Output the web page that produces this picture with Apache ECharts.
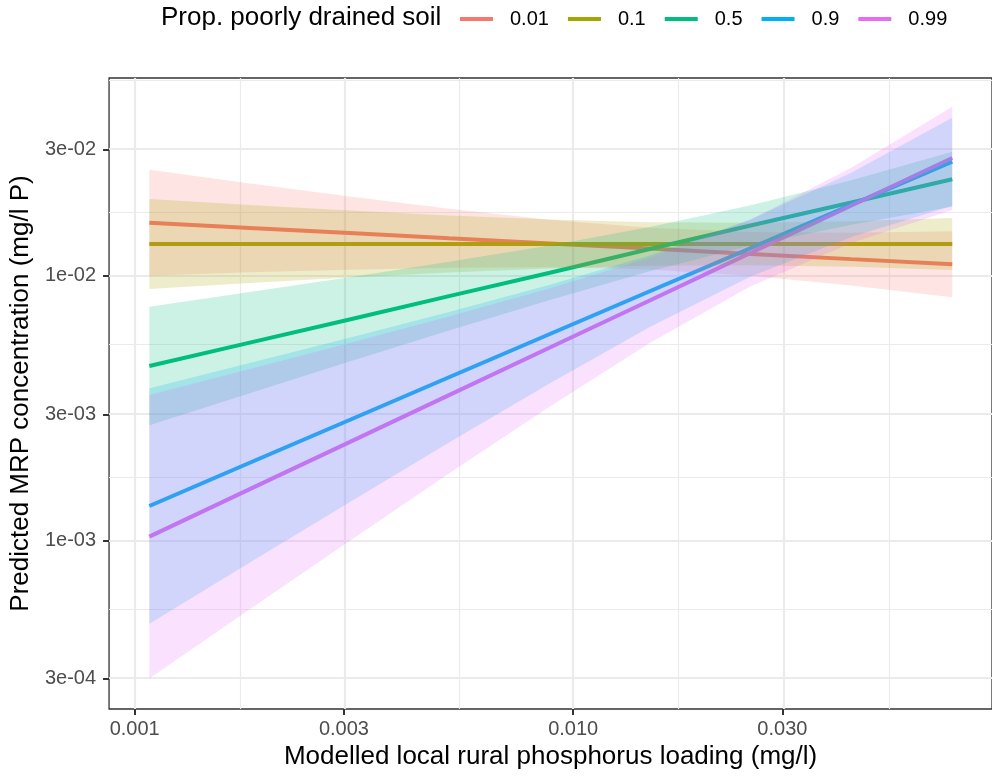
<!DOCTYPE html>
<html>
<head>
<meta charset="utf-8">
<script src="https://cdn.jsdelivr.net/npm/echarts@6/dist/echarts.min.js"></script>
<style>
  html, body { margin: 0; padding: 0; background: #ffffff; }
  #chart { width: 992px; height: 776px; }
</style>
</head>
<body>
<div id="chart"></div>
<script>
// Groups: proportion of poorly drained soil
const groups = ['0.01', '0.1', '0.5', '0.9', '0.99'];
const colors = ['#F8766D', '#A3A500', '#00BF7D', '#00B0F6', '#E76BF3'];

// Modelled local rural phosphorus loading (mg/l) at which predictions are shown
const loading = [0.00108, 0.00183, 0.00309, 0.00521, 0.00885, 0.01495, 0.0254, 0.0431, 0.0732];

// Predicted MRP (mg/l P) with lower / upper confidence limits, per group
const fit001 = [0.0159, 0.0152, 0.01453, 0.01388, 0.01327, 0.01269, 0.01212, 0.01158, 0.01107];
const lo001  = [0.01003, 0.01032, 0.01056, 0.01075, 0.0108, 0.01059, 0.01002, 0.00921, 0.00831];
const hi001  = [0.02522, 0.02239, 0.01998, 0.01794, 0.01632, 0.01521, 0.01467, 0.01458, 0.01476];

const fit01 = [0.0132, 0.0132, 0.0132, 0.0132, 0.0132, 0.0132, 0.0132, 0.0132, 0.0132];
const lo01  = [0.00893, 0.0094, 0.00987, 0.01031, 0.01068, 0.01093, 0.01099, 0.01084, 0.01053];
const hi01  = [0.01955, 0.01857, 0.01769, 0.01693, 0.01634, 0.01597, 0.01588, 0.01609, 0.01657];

const fit05 = [0.00457, 0.0056, 0.00685, 0.00839, 0.01028, 0.01265, 0.01552, 0.01896, 0.0232];
const lo05  = [0.002726, 0.003604, 0.004746, 0.006221, 0.008107, 0.01043, 0.01303, 0.01563, 0.01825];
const hi05  = [0.007655, 0.0087, 0.009896, 0.01131, 0.01304, 0.01533, 0.01849, 0.023, 0.02951];

const fit09 = [0.00135, 0.001967, 0.002855, 0.00414, 0.006036, 0.008754, 0.01275, 0.01857, 0.02704];
const lo09  = [0.000484, 0.000825, 0.001394, 0.002345, 0.00393, 0.006409, 0.009948, 0.01404, 0.01844];
const hi09  = [0.003763, 0.004689, 0.005844, 0.007309, 0.009271, 0.01195, 0.01634, 0.02455, 0.03969];

const fit099 = [0.001034, 0.001563, 0.002355, 0.003545, 0.005366, 0.008079, 0.01223, 0.01847, 0.02793];
const lo099  = [0.000301, 0.000549, 0.000995, 0.00179, 0.003208, 0.005576, 0.009143, 0.01332, 0.01777];
const hi099  = [0.003549, 0.004446, 0.005575, 0.007021, 0.008977, 0.01171, 0.01635, 0.02563, 0.04367];

// Axis breaks and labels
const xTicks = [0.001, 0.003, 0.010, 0.030];
const xTickLabels = ['0.001', '0.003', '0.010', '0.030'];
const xMinor = [0.001732, 0.005477, 0.01732, 0.05195];
const yTicks = [3e-4, 1e-3, 3e-3, 1e-2, 3e-2];
const yTickLabels = ['3e-04', '1e-03', '3e-03', '1e-02', '3e-02'];
const yMinor = [0.0005477, 0.001732, 0.005477, 0.01732, 0.05477];
const xLimits = [0.000874, 0.0902];
const yLimits = [0.0002306, 0.05604];

const fits = [fit001, fit01, fit05, fit09, fit099];
const lows = [lo001, lo01, lo05, lo09, lo099];
const highs = [hi001, hi01, hi05, hi09, hi099];

const L = Math.log10;
const FONT = "'Liberation Sans', Arial, sans-serif";

function rgba(hex, a) {
  const n = parseInt(hex.slice(1), 16);
  return 'rgba(' + (n >> 16) + ',' + ((n >> 8) & 255) + ',' + (n & 255) + ',' + a + ')';
}

function tickLabel(values, labels) {
  return function (v) {
    for (let k = 0; k < values.length; k++) {
      if (Math.abs(L(values[k]) - v) < 1e-6) return labels[k];
    }
    return '';
  };
}

// confidence band drawn as one polygon through the axis scales;
// bands sit above all fitted lines
function bandSeries(i) {
  const pts = loading.map((x, j) => [L(x), L(lows[i][j]), L(highs[i][j])]);
  return {
    type: 'custom',
    name: 'band ' + groups[i],
    data: pts,
    encode: { x: 0, y: [1, 2] },
    z: 20 + i,
    silent: true,
    clip: true,
    renderItem: function (params, api) {
      if (params.dataIndex !== 0) return;
      const upper = pts.map(p => api.coord([p[0], p[2]]));
      const lower = pts.map(p => api.coord([p[0], p[1]])).reverse();
      return {
        type: 'polygon',
        shape: { points: upper.concat(lower) },
        style: { fill: rgba(colors[i], 0.2), stroke: null }
      };
    }
  };
}

function fitSeries(i) {
  return {
    type: 'line',
    name: groups[i],
    data: loading.map((x, j) => [L(x), L(fits[i][j])]),
    showSymbol: false,
    symbol: 'none',
    color: colors[i],
    lineStyle: { color: colors[i], width: 4 },
    z: 10 + i,
    silent: true
  };
}

const gridLines = [];
xMinor.forEach(v => gridLines.push({ xAxis: L(v), lineStyle: { color: '#EBEBEB', width: 1.2, type: 'solid' } }));
yMinor.forEach(v => gridLines.push({ yAxis: L(v), lineStyle: { color: '#EBEBEB', width: 1.2, type: 'solid' } }));
xTicks.forEach(v => gridLines.push({ xAxis: L(v), lineStyle: { color: '#EBEBEB', width: 2.2, type: 'solid' } }));
yTicks.forEach(v => gridLines.push({ yAxis: L(v), lineStyle: { color: '#EBEBEB', width: 2.2, type: 'solid' } }));

const series = [{
  type: 'line',
  name: 'grid',
  data: [],
  silent: true,
  z: 1,
  markLine: {
    silent: true,
    symbol: 'none',
    label: { show: false },
    animation: false,
    data: gridLines
  }
}];
for (let i = 0; i < groups.length; i++) series.push(fitSeries(i));
for (let i = 0; i < groups.length; i++) series.push(bandSeries(i));

const chart = echarts.init(document.getElementById('chart'), null, { renderer: 'canvas' });
chart.setOption({
  animation: false,
  backgroundColor: '#ffffff',
  textStyle: { fontFamily: FONT },
  title: {
    text: 'Prop. poorly drained soil',
    left: 161,
    top: 5,
    padding: 0,
    textStyle: { fontFamily: FONT, fontSize: 26, fontWeight: 'normal', color: '#000000' }
  },
  legend: {
    data: groups,
    left: 460,
    top: 9,
    padding: 0,
    icon: 'rect',
    itemWidth: 33,
    itemHeight: 4,
    itemGap: 19,
    selectedMode: false,
    textStyle: { fontFamily: FONT, fontSize: 20, color: '#000000', padding: [0, 0, 0, 12], lineHeight: 20 }
  },
  grid: {
    left: 108,
    top: 78,
    right: -9,
    bottom: 67,
    show: true,
    borderColor: '#333333',
    borderWidth: 1.3,
    backgroundColor: '#ffffff'
  },
  xAxis: {
    type: 'value',
    min: L(xLimits[0]),
    max: L(xLimits[1]),
    name: 'Modelled local rural phosphorus loading (mg/l)',
    nameLocation: 'middle',
    nameGap: 33,
    nameTextStyle: { fontFamily: FONT, fontSize: 26, color: '#000000' },
    axisLine: { show: false },
    axisTick: {
      show: true,
      customValues: xTicks.map(L),
      length: 6,
      lineStyle: { color: '#333333', width: 2 }
    },
    axisLabel: {
      customValues: xTicks.map(L),
      formatter: tickLabel(xTicks, xTickLabels),
      fontFamily: FONT,
      fontSize: 20,
      color: '#4D4D4D',
      margin: 10
    },
    splitLine: { show: false }
  },
  yAxis: {
    type: 'value',
    min: L(yLimits[0]),
    max: L(yLimits[1]),
    name: 'Predicted MRP concentration (mg/l P)',
    nameLocation: 'middle',
    nameGap: 67,
    nameTextStyle: { fontFamily: FONT, fontSize: 26, color: '#000000' },
    axisLine: { show: false },
    axisTick: {
      show: true,
      customValues: yTicks.map(L),
      length: 6,
      lineStyle: { color: '#333333', width: 2 }
    },
    axisLabel: {
      customValues: yTicks.map(L),
      formatter: tickLabel(yTicks, yTickLabels),
      fontFamily: FONT,
      fontSize: 20,
      color: '#4D4D4D',
      margin: 13
    },
    splitLine: { show: false }
  },
  series: series
});
</script>
</body>
</html>
